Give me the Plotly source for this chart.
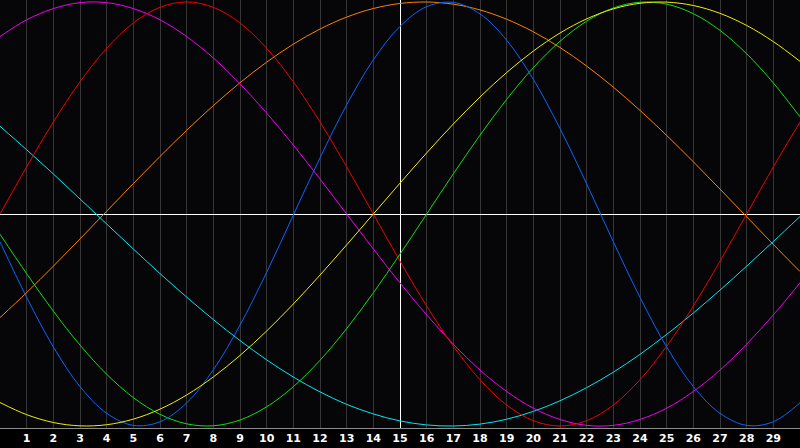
import plotly.graph_objects as go

days = list(range(0, 31))
tick_days = list(range(1, 30))
tick_labels = [str(d) for d in tick_days]
today = [15]

red = [0.0, 0.2225, 0.4339, 0.6235, 0.7818, 0.9010, 0.9749, 1.0, 0.9749, 0.9010, 0.7818,
       0.6235, 0.4339, 0.2225, 0.0, -0.2225, -0.4339, -0.6235, -0.7818, -0.9010, -0.9749,
       -1.0, -0.9749, -0.9010, -0.7818, -0.6235, -0.4339, -0.2225, 0.0, 0.2225, 0.4339]
blue = [-0.131, -0.393, -0.627, -0.814, -0.940, -0.997, -0.980, -0.891, -0.735, -0.524, -0.275,
        -0.005, 0.265, 0.515, 0.727, 0.885, 0.978, 0.998, 0.944, 0.820, 0.635,
        0.403, 0.142, -0.131, -0.393, -0.627, -0.814, -0.940, -0.997, -0.980, -0.891]
green = [-0.0951, -0.2817, -0.4582, -0.6182, -0.7557, -0.8660, -0.9450, -0.9898, -0.9989, -0.9718, -0.9096,
         -0.8146, -0.6901, -0.5406, -0.3717, -0.1893, 0.0, 0.1893, 0.3717, 0.5406, 0.6901,
         0.8146, 0.9096, 0.9718, 0.9989, 0.9898, 0.9450, 0.8660, 0.7557, 0.6182, 0.4582]
magenta = [0.837, 0.916, 0.969, 0.997, 0.997, 0.969, 0.916, 0.837, 0.736, 0.614, 0.476,
           0.325, 0.165, 0.0, -0.165, -0.325, -0.476, -0.614, -0.736, -0.837, -0.916,
           -0.969, -0.997, -0.997, -0.969, -0.916, -0.837, -0.736, -0.614, -0.476, -0.325]
orange = [-0.4886, -0.3706, -0.2462, -0.1175, 0.0131, 0.1435, 0.2714, 0.3947, 0.5113, 0.6191, 0.7163,
          0.8013, 0.8725, 0.9288, 0.9692, 0.9931, 0.9999, 0.9897, 0.9625, 0.9188, 0.8594,
          0.7853, 0.6977, 0.5983, 0.4886, 0.3706, 0.2462, 0.1175, -0.0131, -0.1435, -0.2714]
cyan = [0.414, 0.303, 0.189, 0.071, -0.047, -0.165, -0.281, -0.392, -0.498, -0.597, -0.688,
        -0.769, -0.839, -0.898, -0.943, -0.976, -0.995, -1.000, -0.991, -0.968, -0.931,
        -0.881, -0.819, -0.746, -0.662, -0.568, -0.467, -0.359, -0.246, -0.130, -0.012]
yellow = [-0.8893, -0.9465, -0.9834, -0.9993, -0.9940, -0.9675, -0.9204, -0.8536, -0.7686, -0.6673, -0.5518,
          -0.4244, -0.2881, -0.1456, 0.0, 0.1456, 0.2881, 0.4244, 0.5518, 0.6673, 0.7686,
          0.8536, 0.9204, 0.9675, 0.9940, 0.9993, 0.9834, 0.9465, 0.8893, 0.8132, 0.7200]

series = [
    ("cyan", cyan, "#00e8f0"),
    ("orange", orange, "#ff8000"),
    ("magenta", magenta, "#f000f0"),
    ("red", red, "#f00000"),
    ("green", green, "#10e010"),
    ("blue", blue, "#0a64ff"),
    ("yellow", yellow, "#f0f000"),
]

fig = go.Figure()
for name, vals, col in series:
    fig.add_trace(go.Scatter(x=days, y=vals, mode="lines", name=name,
                             line=dict(color=col, width=1, shape="spline", smoothing=1.0),
                             hoverinfo="skip"))

fig.update_layout(
    width=800, height=448,
    margin=dict(l=0, r=0, t=0, b=20, autoexpand=False),
    paper_bgcolor="#000000",
    plot_bgcolor="#060609",
    showlegend=False,
    xaxis=dict(range=[0, 30], tickmode="array", tickvals=tick_days, ticktext=tick_labels,
               showgrid=True, gridcolor="#363636", gridwidth=1, zeroline=False,
               showline=True, linecolor="#8c8c8c", linewidth=1, mirror=True,
               ticks="", tickfont=dict(family="DejaVu Sans", size=11, color="#ffffff", weight="bold")),
    xaxis2=dict(range=[0, 30], overlaying="x", tickmode="array", tickvals=today,
                showgrid=True, gridcolor="#ffffff", gridwidth=1, zeroline=False,
                showticklabels=False, ticks="", showline=False),
    yaxis=dict(range=[-1.0094, 1.0094], showgrid=False, showticklabels=False,
               zeroline=True, zerolinecolor="#ffffff", zerolinewidth=1,
               showline=True, linecolor="#8c8c8c", linewidth=1, mirror=True, ticks=""),
)
# dummy invisible trace to activate xaxis2 (today marker axis)
fig.add_trace(go.Scatter(x=today, y=[0], xaxis="x2", yaxis="y", mode="markers",
                         marker=dict(opacity=0), hoverinfo="skip", showlegend=False))

fig.write_html("out.html", config={"displayModeBar": False},
               post_script="document.body.style.margin='0';document.body.style.overflow='hidden';")
